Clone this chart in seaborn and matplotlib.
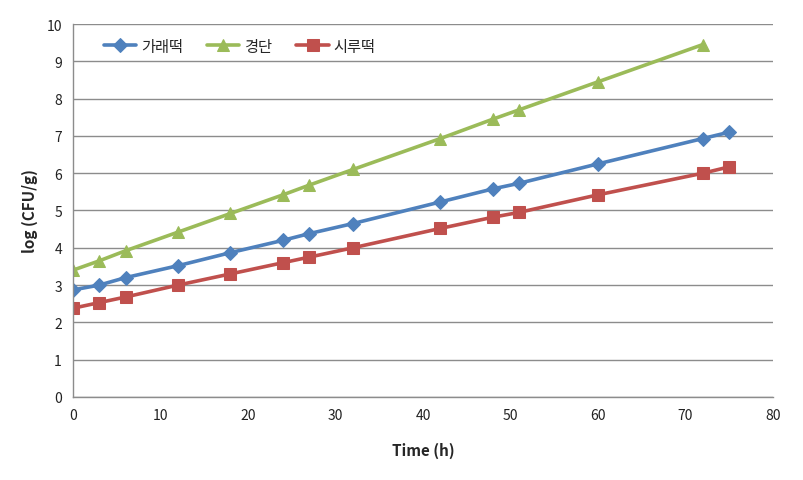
import matplotlib
matplotlib.use("Agg")
import matplotlib.pyplot as plt
import seaborn as sns
import pandas as pd

time_h = [0, 3, 6, 12, 18, 24, 27, 32, 42, 48, 51, 60, 72, 75]
garaetteok = [2.87, 3.0, 3.2, 3.52, 3.87, 4.2, 4.38, 4.65, 5.23, 5.58, 5.73, 6.25, 6.93, 7.1]
gyeongdan_time = [0, 3, 6, 12, 18, 24, 27, 32, 42, 48, 51, 60, 72]
gyeongdan = [3.4, 3.65, 3.92, 4.42, 4.92, 5.42, 5.68, 6.1, 6.93, 7.45, 7.7, 8.45, 9.45]
sirutteok = [2.38, 2.53, 2.68, 3.0, 3.3, 3.6, 3.75, 4.0, 4.52, 4.82, 4.95, 5.42, 6.0, 6.17]

series_names = ["가래떡", "경단", "시루떡"]
colors = ["#4F81BD", "#9BBB59", "#C0504D"]
markers = ["D", "^", "s"]
x_ticks = [0, 10, 20, 30, 40, 50, 60, 70, 80]
y_ticks = list(range(0, 11))

df = pd.concat([
    pd.DataFrame({"time": time_h, "value": garaetteok, "series": series_names[0]}),
    pd.DataFrame({"time": gyeongdan_time, "value": gyeongdan, "series": series_names[1]}),
    pd.DataFrame({"time": time_h, "value": sirutteok, "series": series_names[2]}),
])

sns.set_style("white")
plt.rcParams['font.family'] = ['Noto Sans CJK KR', 'DejaVu Sans']

fig = plt.figure(figsize=(8.04, 4.81), dpi=100)
ax = fig.add_axes([0.0908, 0.1726, 0.8706, 0.7754])

sizes = {"가래떡": 7, "경단": 9, "시루떡": 9}
for name, c, m in zip(series_names, colors, markers):
    sub = df[df["series"] == name]
    sns.lineplot(data=sub, x="time", y="value", ax=ax, color=c, marker=m,
                 markersize=sizes[name], markeredgecolor=c, linewidth=2.6,
                 label=name, estimator=None, sort=False)

ax.set_xlim(0, 80)
ax.set_ylim(0, 10)
ax.set_xticks(x_ticks)
ax.set_yticks(y_ticks)
ax.yaxis.grid(True, color="#8c8c8c", linewidth=1.0)
ax.xaxis.grid(False)
for s in ["top", "right"]:
    ax.spines[s].set_visible(False)
for s in ["left", "bottom"]:
    ax.spines[s].set_color("#8c8c8c")
    ax.spines[s].set_linewidth(1.0)
ax.tick_params(axis="both", length=0, labelsize=10, colors="#222222", pad=8)
ax.set_xlabel("Time (h)", fontsize=11, fontweight="bold", labelpad=14)
ax.set_ylabel("log (CFU/g)", fontsize=11, fontweight="bold", labelpad=6)

leg = ax.legend(loc="upper left", bbox_to_anchor=(0.025, 1.0), ncol=3, frameon=False,
                fontsize=11, handlelength=2.1, columnspacing=1.6, handletextpad=0.3)

fig.savefig("out.png", dpi=100, facecolor="white")
